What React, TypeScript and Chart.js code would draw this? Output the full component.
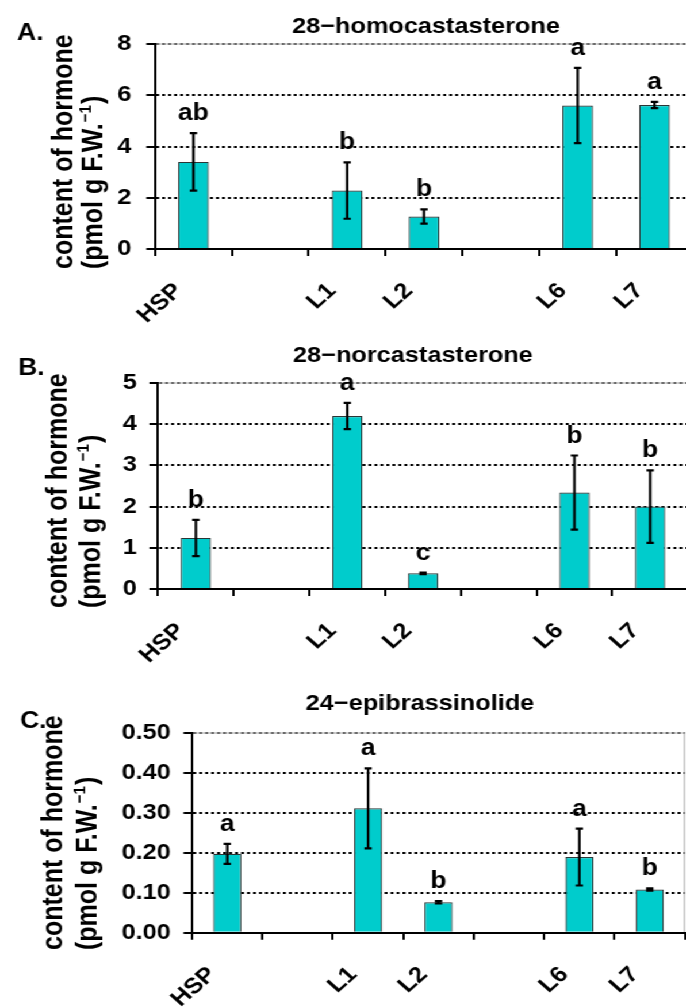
import React, { useEffect, useRef } from "react";
import { Chart, registerables } from "chart.js";

Chart.register(...registerables);

// ---------- data ----------
const CATEGORIES = ["HSP", "", "L1", "L2", "", "L6", "L7"];

const A_VALUES = [3.4, null, 2.28, 1.27, null, 5.6, 5.62];
const A_ERRORS = [1.12, null, 1.1, 0.28, null, 1.47, 0.12];
const A_LETTERS = ["ab", "", "b", "b", "", "a", "a"];

const B_VALUES = [1.24, null, 4.2, 0.38, null, 2.34, 2.0];
const B_ERRORS = [0.44, null, 0.32, 0.02, null, 0.9, 0.88];
const B_LETTERS = ["b", "", "a", "c", "", "b", "b"];

const C_VALUES = [0.197, null, 0.311, 0.076, null, 0.189, 0.108];
const C_ERRORS = [0.025, null, 0.1, 0.003, null, 0.071, 0.003];
const C_LETTERS = ["a", "", "a", "b", "", "a", "b"];

const TITLES = ["28\u2212homocastasterone", "28\u2212norcastasterone", "24\u2212epibrassinolide"];
const PANEL_LABELS = ["A.", "B.", "C."];
const Y_TITLE_LINE1 = "content of hormone";
const Y_TITLE_LINE2 = "(pmol g F.W.";
const Y_TITLE_SUP = "\u22121";
const Y_TITLE_END = ")";

const Y_MAX = [8, 5, 0.5];
const Y_STEP = [2, 1, 0.1];
const Y_DECIMALS = [0, 0, 2];

// ---------- layout / style ----------
const STRETCH = 1.15;
const CANVAS_W = 620;
const FONT = "'Liberation Sans', Arial, Helvetica, sans-serif";
const BAR_FILL = "#00CCCC";
const BAR_EDGE = "#2a3636";

type Layout = {
  top: number; height: number; padTop: number; yWidth: number; xHeight: number;
  padRight: number; tickPad: number; titleX: number; titleY: number;
  labelX: number; labelY: number; yStart: number; b1: number; b2: number;
};

const LAYOUTS: Layout[] = [
  { top: 0, height: 340, padTop: 44, yWidth: 134.8, xHeight: 91, padRight: 17.4, tickPad: 13,
    titleX: 370.4, titleY: 33, labelX: 14.8, labelY: 40, yStart: 269, b1: 62.6, b2: 88.7 },
  { top: 330, height: 345, padTop: 53, yWidth: 137.4, xHeight: 86, padRight: 21.7, tickPad: 11,
    titleX: 359.1, titleY: 32, labelX: 15.7, labelY: 45, yStart: 278, b1: 58.3, b2: 87 },
  { top: 660, height: 348, padTop: 72.7, yWidth: 167, xHeight: 75.3, padRight: 24.35, tickPad: 11,
    titleX: 365.2, titleY: 50, labelX: 17.4, labelY: 68, yStart: 290, b1: 53.9, b2: 84.1 },
];

const VALUES = [A_VALUES, B_VALUES, C_VALUES];
const ERRORS = [A_ERRORS, B_ERRORS, C_ERRORS];
const LETTERS = [A_LETTERS, B_LETTERS, C_LETTERS];

function makeOverlay(i: number) {
  const L = LAYOUTS[i];
  const errs = ERRORS[i];
  const vals = VALUES[i];
  const letters = LETTERS[i];
  return {
    id: "overlay" + i,
    beforeDatasetsDraw(chart: any) {
      const { ctx, chartArea: ca } = chart;
      const y = chart.scales.y;
      ctx.save();
      y.ticks.forEach((t: any) => {
        if (Math.abs(t.value - y.min) < 1e-9) return;
        const py = Math.round(y.getPixelForValue(t.value));
        const isTop = Math.abs(t.value - y.max) < 1e-9;
        if (isTop) {
          ctx.setLineDash([]);
          ctx.strokeStyle = "#a8a8a8";
          ctx.lineWidth = 1;
          ctx.beginPath();
          ctx.moveTo(ca.left, py);
          ctx.lineTo(ca.right, py);
          ctx.stroke();
          ctx.strokeStyle = "#6a6a6a";
        } else {
          ctx.strokeStyle = "#000";
        }
        ctx.setLineDash([2.6, 2.6]);
        ctx.lineWidth = 2;
        ctx.beginPath();
        ctx.moveTo(ca.left + 1, py);
        ctx.lineTo(ca.right, py);
        ctx.stroke();
      });
      ctx.setLineDash([]);
      ctx.strokeStyle = "#a8a8a8";
      ctx.lineWidth = 1;
      ctx.beginPath();
      ctx.moveTo(ca.right - 0.5, ca.top);
      ctx.lineTo(ca.right - 0.5, ca.bottom);
      ctx.stroke();
      ctx.restore();
    },
    afterDatasetsDraw(chart: any) {
      const { ctx } = chart;
      const x = chart.scales.x;
      const y = chart.scales.y;
      ctx.save();
      ctx.strokeStyle = "#000";
      ctx.fillStyle = "#000";
      vals.forEach((v: number | null, k: number) => {
        if (v === null) return;
        const e = errs[k] || 0;
        const px = x.getPixelForValue(k);
        const yt = y.getPixelForValue(v + e);
        const yb = y.getPixelForValue(v - e);
        ctx.lineWidth = 2.2;
        ctx.beginPath();
        ctx.moveTo(px, yt);
        ctx.lineTo(px, yb);
        ctx.stroke();
        ctx.lineWidth = 2.2;
        ctx.beginPath();
        ctx.moveTo(px - 3.2, yt);
        ctx.lineTo(px + 3.2, yt);
        ctx.moveTo(px - 3.2, yb);
        ctx.lineTo(px + 3.2, yb);
        ctx.stroke();
        const lt = letters[k];
        if (lt) {
          ctx.font = `bold 23px ${FONT}`;
          ctx.textAlign = "center";
          ctx.textBaseline = "alphabetic";
          ctx.fillText(lt, px, yt - 13);
        }
      });
      ctx.restore();
    },
    afterDraw(chart: any) {
      const { ctx } = chart;
      ctx.save();
      ctx.fillStyle = "#000";
      ctx.textBaseline = "alphabetic";
      ctx.font = `bold 22px ${FONT}`;
      ctx.textAlign = "center";
      ctx.fillText(TITLES[i], L.titleX, L.titleY);
      ctx.textAlign = "left";
      ctx.font = `bold 23px ${FONT}`;
      ctx.fillText(PANEL_LABELS[i], L.labelX, L.labelY);
      // y axis title (rotated)
      ctx.translate(L.b1, L.yStart);
      ctx.rotate(-Math.PI / 2);
      ctx.font = `bold 25px ${FONT}`;
      ctx.fillText(Y_TITLE_LINE1, 0, 0);
      const d = L.b2 - L.b1;
      ctx.fillText(Y_TITLE_LINE2, 0, d);
      const w2 = ctx.measureText(Y_TITLE_LINE2).width;
      ctx.font = `bold 15px ${FONT}`;
      ctx.fillText(Y_TITLE_SUP, w2 + 1, d - 10);
      const ws = ctx.measureText(Y_TITLE_SUP).width;
      ctx.font = `bold 25px ${FONT}`;
      ctx.fillText(Y_TITLE_END, w2 + ws + 2, d);
      ctx.restore();
    },
  };
}

function Panel({ index }: { index: number }) {
  const ref = useRef<HTMLCanvasElement | null>(null);
  const L = LAYOUTS[index];
  useEffect(() => {
    if (!ref.current) return;
    const decimals = Y_DECIMALS[index];
    const chart = new Chart(ref.current, {
      type: "bar",
      data: {
        labels: CATEGORIES,
        datasets: [
          {
            data: VALUES[index] as any,
            backgroundColor: BAR_FILL,
            borderColor: BAR_EDGE,
            borderWidth: 1.2,
            barPercentage: 0.4,
            categoryPercentage: 1.0,
          },
        ],
      },
      options: {
        animation: false,
        responsive: false,
        devicePixelRatio: 1,
        layout: { padding: { top: L.padTop, left: 0, right: L.padRight, bottom: 0 } },
        plugins: { legend: { display: false }, tooltip: { enabled: false }, title: { display: false } },
        scales: {
          x: {
            afterFit: (s: any) => { s.height = L.xHeight; },
            grid: { display: true, drawOnChartArea: false, drawTicks: true, tickLength: 7, color: "#000", lineWidth: 2, offset: true },
            border: { display: true, color: "#000", width: 2, z: 1 },
            ticks: {
              autoSkip: false, minRotation: 45, maxRotation: 45, padding: 22, labelOffset: -13,
              color: "#000", font: { family: FONT, size: 22, weight: "bold" },
            },
          },
          y: {
            min: 0,
            max: Y_MAX[index],
            afterFit: (s: any) => { s.width = L.yWidth; },
            grid: { display: true, drawOnChartArea: false, drawTicks: true, tickLength: 7.5, color: "#000", lineWidth: 2 },
            border: { display: true, color: "#000", width: 2, z: 1 },
            ticks: {
              stepSize: Y_STEP[index],
              padding: L.tickPad,
              color: "#000",
              font: { family: FONT, size: 22, weight: "bold" },
              callback: (v: any) => Number(v).toFixed(decimals),
            },
          },
        },
      },
      plugins: [makeOverlay(index)],
    } as any);
    return () => chart.destroy();
  }, [index]);
  return (
    <canvas
      ref={ref}
      width={CANVAS_W}
      height={L.height}
      style={{ position: "absolute", left: 0, top: L.top, display: "block" }}
    />
  );
}

export default function App() {
  return (
    <div style={{ position: "absolute", left: 0, top: 0, width: 686, height: 1008, overflow: "hidden", background: "#fff" }}>
      <div
        style={{
          position: "absolute", left: 0, top: 0, width: CANVAS_W, height: 1008,
          transform: `scaleX(${STRETCH})`, transformOrigin: "0 0",
        }}
      >
        <Panel index={0} />
        <Panel index={1} />
        <Panel index={2} />
      </div>
    </div>
  );
}
